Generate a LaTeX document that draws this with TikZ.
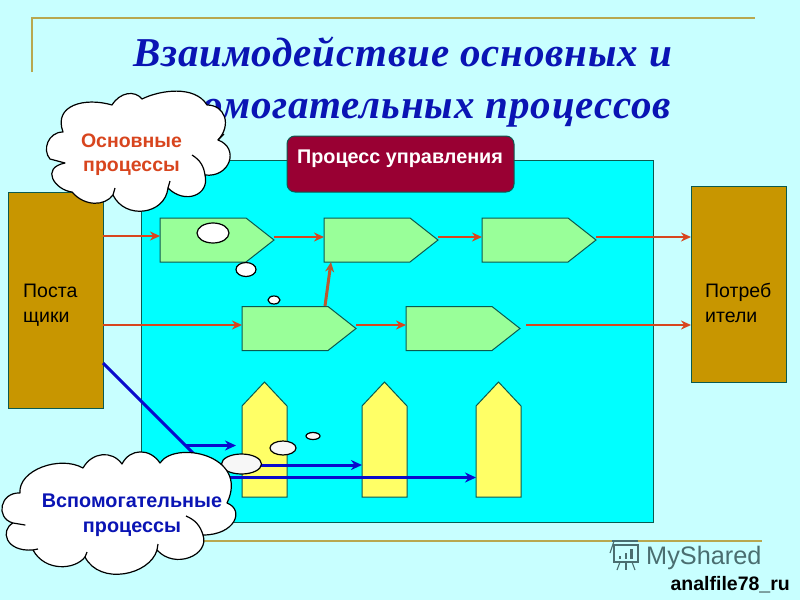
\documentclass[tikz,border=0pt]{standalone}
\usepackage{fontspec}
\setmainfont{Liberation Sans}
\newfontfamily\titlefont[LetterSpace=2]{Liberation Serif}
\usetikzlibrary{shapes.symbols,arrows.meta}
\definecolor{bgc}{HTML}{C8FFFF}
\definecolor{cyanc}{HTML}{00FFFF}
\definecolor{edgec}{HTML}{0B5A50}
\definecolor{goldc}{HTML}{B8A850}
\definecolor{brownc}{HTML}{C89600}
\definecolor{greenc}{HTML}{99FF99}
\definecolor{yellowc}{HTML}{FFFF66}
\definecolor{redc}{HTML}{D8451E}
\definecolor{upc}{HTML}{B85A30}
\definecolor{bluec}{HTML}{0A0ACC}
\definecolor{titlec}{HTML}{0A14B4}
\definecolor{mgrc}{HTML}{990033}
\definecolor{logoc}{HTML}{4A6E70}
\tikzset{
 greenbox/.style={signal,signal to=east,signal from=nowhere,signal pointer angle=76.3,draw=edgec,fill=greenc,line width=1pt,minimum width=114pt,minimum height=44pt,inner sep=0pt,outer sep=0pt},
 yellowbox/.style={signal,signal to=north,signal from=nowhere,signal pointer angle=86.3,draw=edgec,fill=yellowc,line width=1pt,minimum width=45pt,minimum height=91pt,inner sep=0pt,outer sep=0pt},
 brownbox/.style={rectangle,draw=edgec,fill=brownc,line width=1pt,minimum width=95pt,inner sep=0pt,outer sep=0pt},
 redarrow/.style={draw=redc,line width=2.4pt,-{Stealth[length=10pt,width=9pt]}},
 bluearrow/.style={draw=bluec,line width=3pt,-{Stealth[length=11pt,width=10pt]}},
 cloudline/.style={draw=black,line width=1.2pt,fill=white,line join=round},
 stub/.style={draw=black,line width=1.2pt},
 lbl/.style={font=\fontsize{19.5}{25}\selectfont,align=left,text=black,inner sep=0pt},
 blob/.style={draw=black,fill=white,line width=1.2pt},
 blobb/.style={draw=black,fill=white!94!gray,line width=1.2pt},
}
\begin{document}
\begin{tikzpicture}[x=1pt,y=-1pt]
\useasboundingbox (0,0) rectangle (800,600);
\fill[bgc] (0,0) rectangle (800,600);
\draw[goldc,line width=1.8pt] (32,72) -- (32,18) -- (755,18);
\draw[goldc,line width=1.8pt] (200,541) -- (762,541);
\node[anchor=base west,inner sep=0pt,text=titlec,font=\titlefont\bfseries\itshape\fontsize{41}{46}\selectfont] (t1) at (133,66) {Взаимодействие основных и};
\node[anchor=base east,inner sep=0pt,text=titlec,font=\titlefont\bfseries\itshape\fontsize{41}{46}\selectfont] (t2) at (671,118) {вспомогательных процессов};
\node[draw=edgec,fill=cyanc,line width=1pt,minimum width=512pt,minimum height=362pt,inner sep=0pt] (field) at (397,341) {};
\node[draw=edgec,fill=mgrc,line width=1pt,rounded corners=8pt,minimum width=227pt,minimum height=56pt,inner sep=0pt] (mgr) at (400.5,164) {};
\node[text=white,inner sep=0pt,font=\bfseries\fontsize{19.8}{24}\selectfont] (mgrt) at (400,159) {Процесс управления};
\node[brownbox,minimum height=216pt] (sup) at (55.5,300) {};
\node[brownbox,minimum height=196pt] (con) at (738.5,284) {};
\node[lbl,anchor=base west] (supt) at (23,322) {Поста\\щики};
\node[lbl,anchor=base west] (cont) at (705,322) {Потреб\\ители};
\node[greenbox] (g1) at (203,240) {};
\node[greenbox] (g2) at (367,240) {};
\node[greenbox] (g3) at (525,240) {};
\node[greenbox] (g4) at (285,328.5) {};
\node[greenbox] (g5) at (449,328.5) {};
\node[yellowbox] (y1) at (264.5,451.5) {};
\node[yellowbox] (y2) at (384.5,451.5) {};
\node[yellowbox] (y3) at (498.5,451.5) {};
% red connectors
\draw[redarrow] ([yshift=4pt]sup.east |- g1.west) -- ([yshift=4pt]g1.west);
\draw[redarrow] ([yshift=3pt]g1.east) -- ([yshift=3pt]g2.west);
\draw[redarrow] ([yshift=3pt]g2.east) -- ([yshift=3pt]g3.west);
\draw[redarrow] ([yshift=3pt]g3.east) -- ([yshift=3pt]g3.east -| con.west);
\draw[redarrow] ([yshift=3.5pt]sup.east |- g4.west) -- ([yshift=3.5pt]g4.west);
\draw[redarrow] ([yshift=3.5pt]g4.east) -- ([yshift=3.5pt]g5.west);
\draw[redarrow] ([yshift=3.5pt,xshift=6pt]g5.east) -- ([yshift=3.5pt]g5.east -| con.west);
\coordinate (u1) at (325,306);
\coordinate (u2) at (331,262);
\draw[draw=upc,line width=3pt,-{Stealth[length=10pt,width=9pt]}] (u1) -- (u2);
% blue connectors
\coordinate (b0) at (103,363);
\coordinate (b1) at (196,456);
\coordinate (b2) at (185,445.5);
\coordinate (b3) at (236,445.5);
\coordinate (b4) at (205,465);
\coordinate (b5) at (362,465);
\coordinate (b6) at (225,477.5);
\coordinate (b7) at (476,477.5);
\draw[draw=bluec,line width=3pt] (b0) -- (b1);
\draw[bluearrow] (b2) -- (b3);
\draw[bluearrow] (b4) -- (b5);
\draw[bluearrow] (b6) -- (b7);
% small ovals
\draw[blob] (213,233) ellipse (16 and 10);
\draw[blob] (246,269.5) ellipse (10 and 7);
\draw[blob] (274,300) ellipse (6 and 4);
\draw[blobb] (241.5,464) ellipse (20 and 10);
\draw[blobb] (283,448) ellipse (13 and 7);
\draw[blobb] (313,436) ellipse (7 and 3.5);
% upper cloud
\path[cloudline] (63,132)
 .. controls (53,105) and (85,97) .. (112,105)
 .. controls (120,92) and (135,90) .. (142,99)
 .. controls (160,90) and (195,85) .. (207,105)
 .. controls (225,105) and (232,125) .. (218,140)
 .. controls (240,148) and (230,178) .. (205,175)
 .. controls (210,195) and (185,205) .. (168,188)
 .. controls (165,215) and (125,220) .. (113,195)
 .. controls (105,206) and (85,207) .. (72,192)
 .. controls (55,190) and (40,168) .. (65,163)
 -- (50,159)
 .. controls (42,150) and (48,132) .. (63,132) -- cycle;
\draw[stub] (205,175) to[bend right=25] (192,155);
\draw[stub] (168,188) -- (170,181);
\draw[stub] (113,195) -- (115,188);
\draw[stub] (218,140) -- (224,134);
% lower cloud
\path[cloudline] (20,493)
 .. controls (18,470) and (60,455) .. (83,468)
 .. controls (92,452) and (112,450) .. (122,464)
 .. controls (130,448) and (150,448) .. (160,463)
 .. controls (175,440) and (250,455) .. (227,503)
 .. controls (245,510) and (235,535) .. (203,535)
 .. controls (210,555) and (175,570) .. (157,550)
 .. controls (150,575) and (100,586) .. (85,557)
 .. controls (75,570) and (45,572) .. (33,550)
 .. controls (5,552) and (0,530) .. (13,523)
 -- (25,525) -- (13,523)
 .. controls (-5,518) and (0,492) .. (20,493) -- cycle;
\draw[stub] (203,535) to[bend right=25] (186,516);
\draw[stub] (157,550) -- (158,544);
\draw[stub] (85,557) -- (87,552);
\draw[stub] (33,550) -- (38,549);
\node[text=redc,inner sep=0pt,align=center,font=\bfseries\fontsize{19.5}{24}\selectfont] (ct1) at (131.5,154.5) {Основные\\процессы};
\node[text=titlec,inner sep=0pt,align=center,font=\bfseries\fontsize{19.8}{25}\selectfont] (ct2) at (132,515) {Вспомогательные\\процессы};
% watermark
\node[anchor=base west,inner sep=0pt,text=logoc,font=\fontsize{25.3}{28}\selectfont] (ms) at (646,564) {MyShared};
\begin{scope}[draw=logoc,line width=1.1pt]
 \draw (612,541) -- (638,541);
 \draw (614,541) -- (610,553);
 \draw (614,545) rectangle (638,562);
 \draw (620,562) -- (617,570);
 \draw (626,562) -- (626,570);
 \draw (632,562) -- (635,570);
 \fill[logoc] (619,556) rectangle (621,559);
 \fill[logoc] (625,553) rectangle (627,559);
 \fill[logoc] (630,549) rectangle (633,559);
\end{scope}
\node[anchor=base east,inner sep=0pt,text=black,font=\bfseries\fontsize{19.5}{21}\selectfont] (af) at (790,590) {analfile78\_ru};
\end{tikzpicture}
\end{document}
